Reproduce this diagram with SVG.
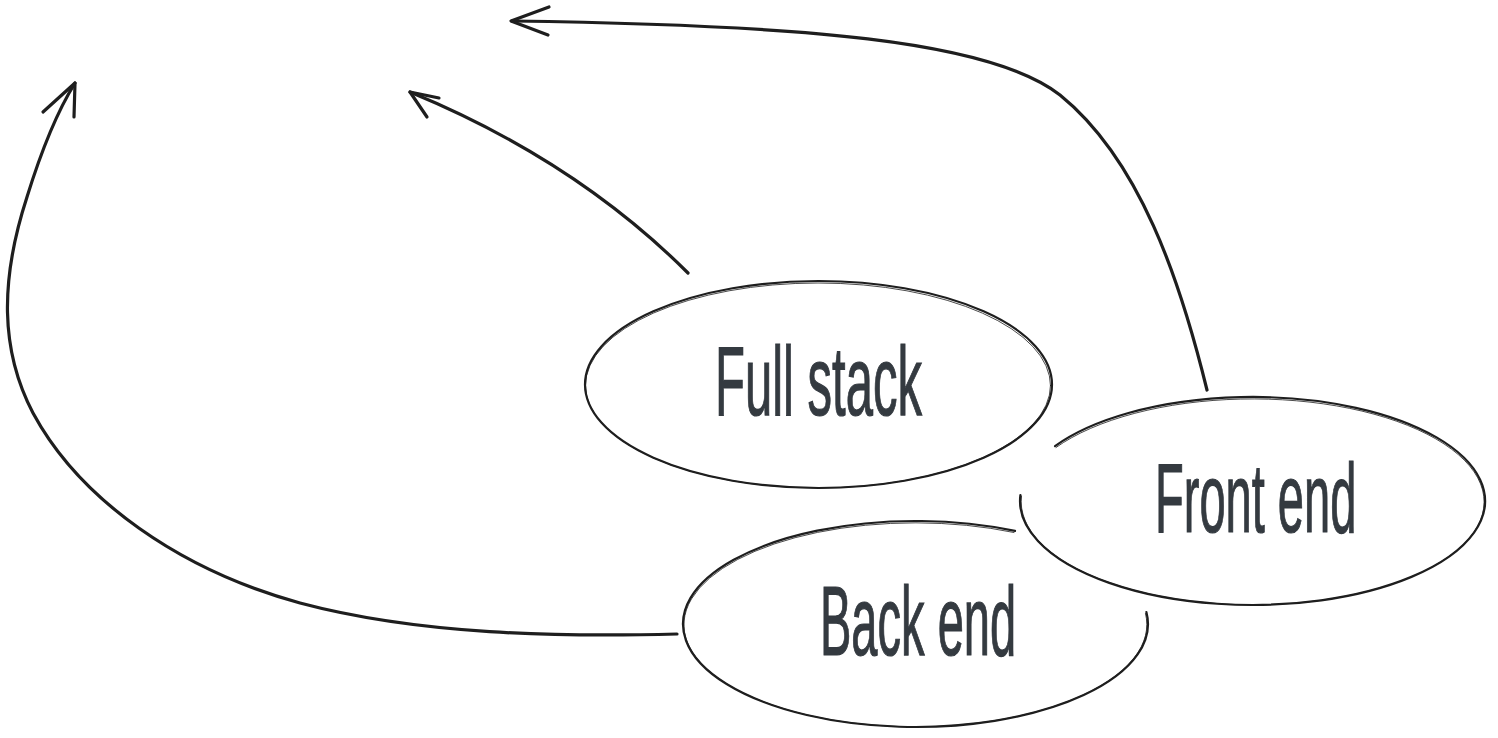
<svg xmlns="http://www.w3.org/2000/svg" width="1498" height="738" viewBox="0 0 1498 738">
  <style>
    .shape { fill: none; stroke: #1e1e1e; stroke-width: 2.2; stroke-linecap: round; }
    .shape2 { fill: none; stroke: #1e1e1e; stroke-width: 1; stroke-linecap: round; opacity: 0.8; }
    .conn { fill: none; stroke: #1e1e1e; stroke-width: 3.2; stroke-linecap: round; stroke-linejoin: round; }
    .label { font-family: "Liberation Sans", Arial, sans-serif; font-size: 98px; fill: #343a40; stroke: #343a40; stroke-width: 1.2; }
  </style>
  <rect width="1498" height="738" fill="#ffffff"/>

  <g id="connectors">
    <g id="edge-fullstack">
      <path class="conn" d="M688,273 Q575,160 410,92"/>
      <path class="conn" d="M439,98 L410,92 L427,117"/>
    </g>
    <g id="edge-frontend">
      <path class="conn" d="M1207,390 C1180,280 1140,160 1060,95 C990,40 800,25 512,21"/>
      <path class="conn" d="M549,7 L511,21 L548,35"/>
    </g>
    <g id="edge-backend">
      <path class="conn" d="M677,634 C560,637 420,635 300,603 C180,570 80,500 33,413 C0,350 0,280 27,197 C40,155 55,115 75,83"/>
      <path class="conn" d="M43,112 L75,83 L74,117"/>
    </g>
  </g>

  <g id="node-fullstack">
    <ellipse class="shape" cx="818.5" cy="384.5" rx="233.5" ry="103.5"/>
    <ellipse class="shape2" cx="818" cy="385.5" rx="232.5" ry="102.5"/>
    <text class="label" transform="translate(715,415) scale(0.5,1)" x="0" y="0">Full stack</text>
  </g>

  <g id="node-frontend">
    <path class="shape" d="M1055,446.1 A232.5,104 0 1 1 1020.4,495"/>
    <path class="shape2" d="M1056,447.5 A231.5,103 0 1 1 1021.5,496"/>
    <text class="label" transform="translate(1155,532) scale(0.48,1)" x="0" y="0">Front end</text>
  </g>

  <g id="node-backend">
    <path class="shape" d="M1146.4,612 A232.5,103 0 1 1 1015,530.9"/>
    <path class="shape2" d="M1145.5,613.5 A231.5,102 0 1 1 1014,532.5"/>
    <text class="label" transform="translate(820,655) scale(0.48,1)" x="0" y="0">Back end</text>
  </g>
</svg>
